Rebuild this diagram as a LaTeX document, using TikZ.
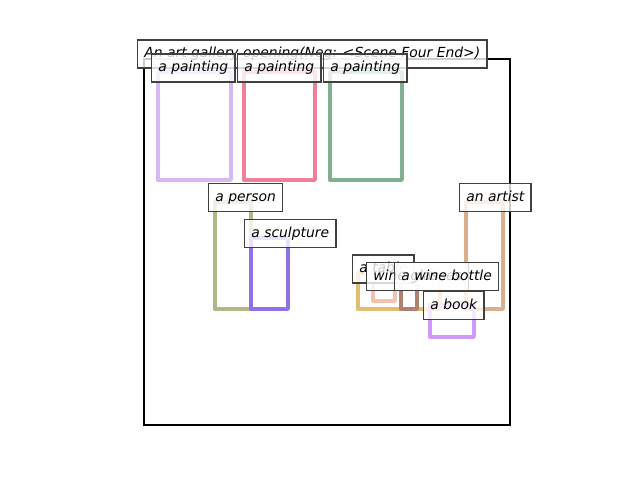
\documentclass[tikz,border=0pt]{standalone}
\usepackage{fontspec}
\setmainfont{DejaVu Sans}
\definecolor{lavender}{HTML}{D8B8F0}
\definecolor{rose}{HTML}{F08098}
\definecolor{sage}{HTML}{80B090}
\definecolor{olive}{HTML}{B0B888}
\definecolor{violet}{HTML}{9070E8}
\definecolor{tan}{HTML}{D8B090}
\definecolor{gold}{HTML}{E0C070}
\definecolor{salmon}{HTML}{F8C0B0}
\definecolor{umber}{HTML}{B08070}
\definecolor{orchid}{HTML}{D098F8}
\tikzset{
    region/.style={line width=2.4pt, line join=round},
    tag/.style={draw=black!75, line width=1pt, fill=white, fill opacity=0.8,
        text opacity=1, anchor=west, inner xsep=4.8pt, inner ysep=5pt,
        text height=7.6pt, text depth=2.4pt, font=\itshape\fontsize{10}{12}\selectfont}
}
\begin{document}
\begin{tikzpicture}[x=0.72pt, y=-0.72pt]
        \useasboundingbox (0,0) rectangle (640,480);
        
        \draw[line width=1.5pt] (144,59) rectangle (510,425);
        \node[tag] (scene) at (137,54) {An art gallery opening(Neg: <Scene Four End>)};
        
        \draw[region, lavender] (158,72) rectangle (231,180);
        \draw[region, rose] (244,72) rectangle (315,180);
        \draw[region, sage] (330,72) rectangle (402,180);
        \draw[region, olive] (215,202) rectangle (251,309);
        \draw[region, violet] (251,238) rectangle (288,309);
        \draw[region, tan] (466,202) rectangle (503,309);
        \draw[region, gold] (358,273) rectangle (440,309);
        \draw[region, salmon] (373,280) rectangle (395,301);
        \draw[region, umber] (401,280) rectangle (417,309);
        \draw[region, orchid] (430,305) rectangle (474,337);
        
        \node[tag] (painting1) at (151,68) {a painting};
        \node[tag] (painting2) at (237,68) {a painting};
        \node[tag] (painting3) at (323,68) {a painting};
        \node[tag] (person) at (208,197.5) {a person};
        \node[tag] (sculpture) at (244,233.5) {a sculpture};
        \node[tag] (artist) at (459,197.5) {an artist};
        \node[tag] (table) at (352,269) {a table};
        \node[tag] (glasses) at (366,276.5) {wine glasses};
        \node[tag] (bottle) at (394,276.5) {a wine bottle};
        \node[tag] (book) at (423,305.5) {a book};
        \end{tikzpicture}
\end{document}
